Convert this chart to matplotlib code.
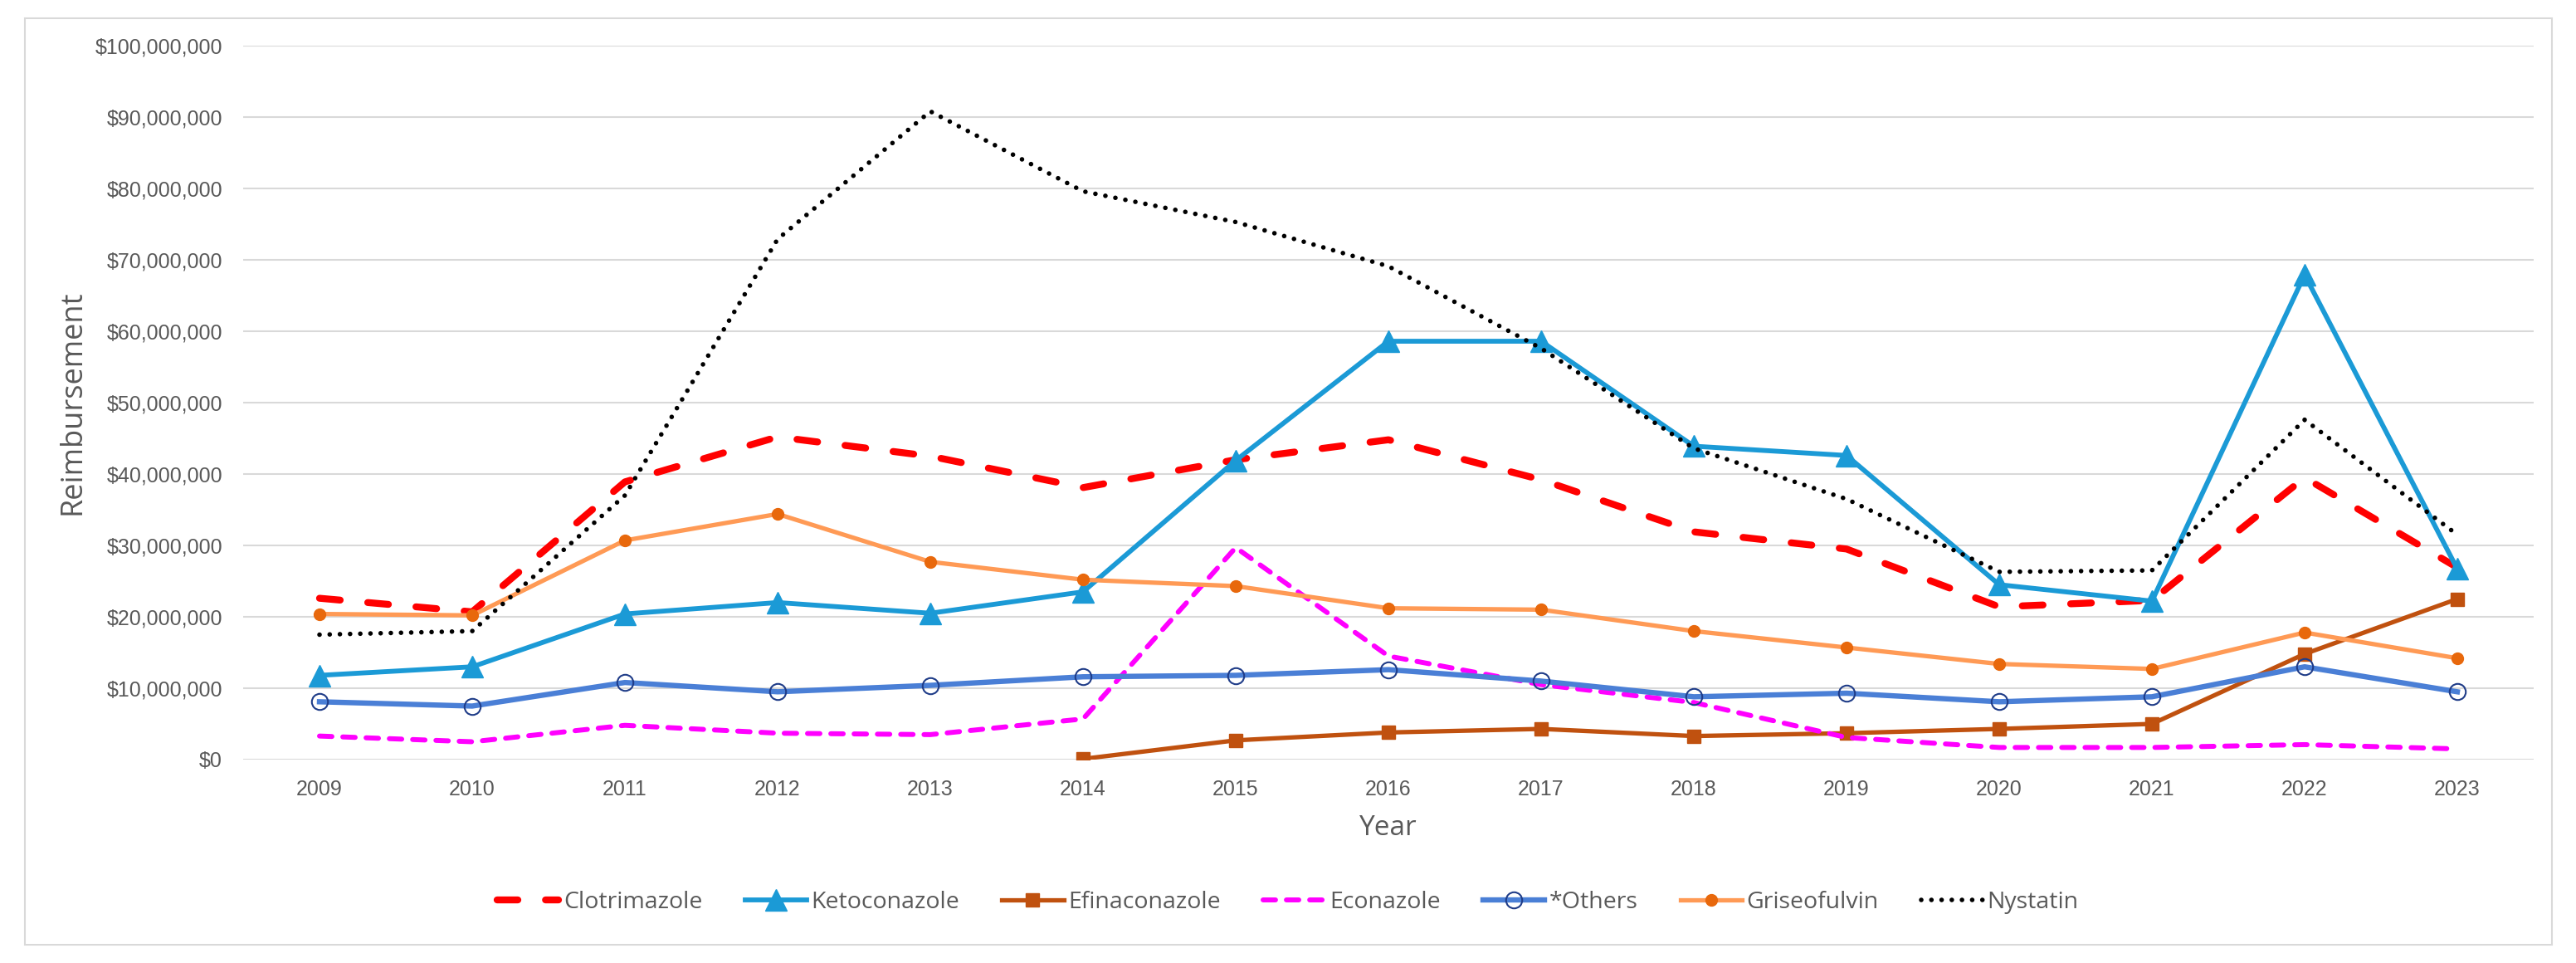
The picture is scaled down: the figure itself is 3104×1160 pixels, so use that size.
import numpy as np
import matplotlib
matplotlib.use("Agg")
import matplotlib.pyplot as plt
from matplotlib.patches import Rectangle
from matplotlib.ticker import FuncFormatter

years = ["2009", "2010", "2011", "2012", "2013", "2014", "2015", "2016",
         "2017", "2018", "2019", "2020", "2021", "2022", "2023"]

# reimbursement in millions of dollars
clotrimazole = [22.6, 20.7, 38.9, 45.2, 42.5, 38.1, 42.0, 44.8, 39.2, 31.9,
                29.5, 21.4, 22.3, 39.5, 26.9]
ketoconazole = [11.8, 13.0, 20.4, 22.0, 20.5, 23.5, 41.9, 58.6, 58.6, 43.9,
                42.6, 24.5, 22.2, 67.9, 26.7]
efinaconazole = [np.nan, np.nan, np.nan, np.nan, np.nan, 0.1, 2.7, 3.8, 4.3, 3.3,
                 3.7, 4.3, 5.0, 14.8, 22.5]
econazole = [3.3, 2.5, 4.8, 3.7, 3.5, 5.7, 29.7, 14.5, 10.5, 8.0,
             3.1, 1.7, 1.7, 2.1, 1.5]
others = [8.1, 7.5, 10.8, 9.5, 10.4, 11.6, 11.8, 12.6, 11.0, 8.8,
          9.3, 8.1, 8.8, 13.0, 9.5]
griseofulvin = [20.4, 20.2, 30.7, 34.4, 27.7, 25.2, 24.3, 21.2, 21.0, 18.0,
                15.7, 13.4, 12.7, 17.8, 14.2]
nystatin = [17.5, 18.0, 37.0, 72.9, 90.8, 79.6, 75.3, 69.1, 57.6, 43.6,
            36.5, 26.3, 26.5, 47.6, 31.5]

TICK_FONT = ["Liberation Sans Narrow", "Liberation Sans", "DejaVu Sans"]
TEXT_FONT = ["Open Sans", "DejaVu Sans"]
GRAY = "#595959"


def main():
    fig = plt.figure(figsize=(31.04, 11.6), dpi=100)
    ax = fig.add_axes([293 / 3104, 245 / 1160, 2760 / 3104, 860 / 1160])

    x = np.arange(len(years))
    m = 1e6

    ax.plot(x, np.array(clotrimazole) * m, color="#FF0000", lw=6,
            dashes=(3, 4), dash_capstyle="round", label="Clotrimazole")
    ax.plot(x, np.array(ketoconazole) * m, color="#1B9AD6", lw=4.2,
            marker="^", markersize=19, label="Ketoconazole")
    ax.plot(x, np.array(efinaconazole) * m, color="#C0510F", lw=3.8,
            marker="s", markersize=11, label="Efinaconazole")
    ax.plot(x, np.array(econazole) * m, color="#FF00FF", lw=4.3,
            dashes=(2.5, 2.2), dash_capstyle="round", label="Econazole")
    ax.plot(x, np.array(others) * m, color="#4A7FD6", lw=4.6,
            marker="o", markersize=14, markerfacecolor="none",
            markeredgecolor="#1F3C88", markeredgewidth=1.5, label="*Others")
    ax.plot(x, np.array(griseofulvin) * m, color="#FF9A55", lw=3.8,
            marker="o", markersize=10, markerfacecolor="#E8680C",
            markeredgecolor="#E8680C", label="Griseofulvin")
    ax.plot(x, np.array(nystatin) * m, color="black", lw=4,
            dashes=(0.01, 2.2), dash_capstyle="round", label="Nystatin")

    ax.set_xlim(-0.5, len(years) - 0.5)
    ax.set_ylim(0, 100e6)
    ax.set_yticks(np.arange(0, 100e6 + 1, 10e6))
    ax.yaxis.set_major_formatter(FuncFormatter(lambda v, p: f"${v:,.0f}"))
    ax.set_xticks(x)
    ax.set_xticklabels(years)

    ax.grid(axis="y", color="#D9D9D9", lw=1.5)
    ax.set_axisbelow(True)
    for s in ax.spines.values():
        s.set_visible(False)
    ax.tick_params(length=0, colors=GRAY, labelsize=18)
    ax.tick_params(axis="y", pad=18)
    ax.tick_params(axis="x", pad=17)
    for lab in ax.get_xticklabels() + ax.get_yticklabels():
        lab.set_family(TICK_FONT)

    fig.text(88 / 3104, 1 - 485 / 1160, "Reimbursement", rotation=90,
             ha="center", va="center", fontsize=26, color=GRAY, family=TEXT_FONT)
    fig.text(1673 / 3104, 1 - 998 / 1160, "Year", ha="center", va="center",
             fontsize=24, color=GRAY, family=TEXT_FONT)

    leg = fig.legend(loc="center", bbox_to_anchor=(1552 / 3104, 1 - 1087 / 1160),
                     ncol=7, frameon=False, handlelength=2.6, handletextpad=0.2,
                     columnspacing=1.8, prop={"family": TEXT_FONT, "size": 20.5})
    for t in leg.get_texts():
        t.set_color(GRAY)

    # light border round the whole chart
    fig.patches.append(Rectangle((30 / 3104, 22 / 1160), 3045 / 3104, 1116 / 1160,
                                 transform=fig.transFigure, fill=False,
                                 edgecolor="#D9D9D9", lw=1.5))

    fig.savefig("out.png", dpi=100)
    return 0


if __name__ == "__main__":
    main()
